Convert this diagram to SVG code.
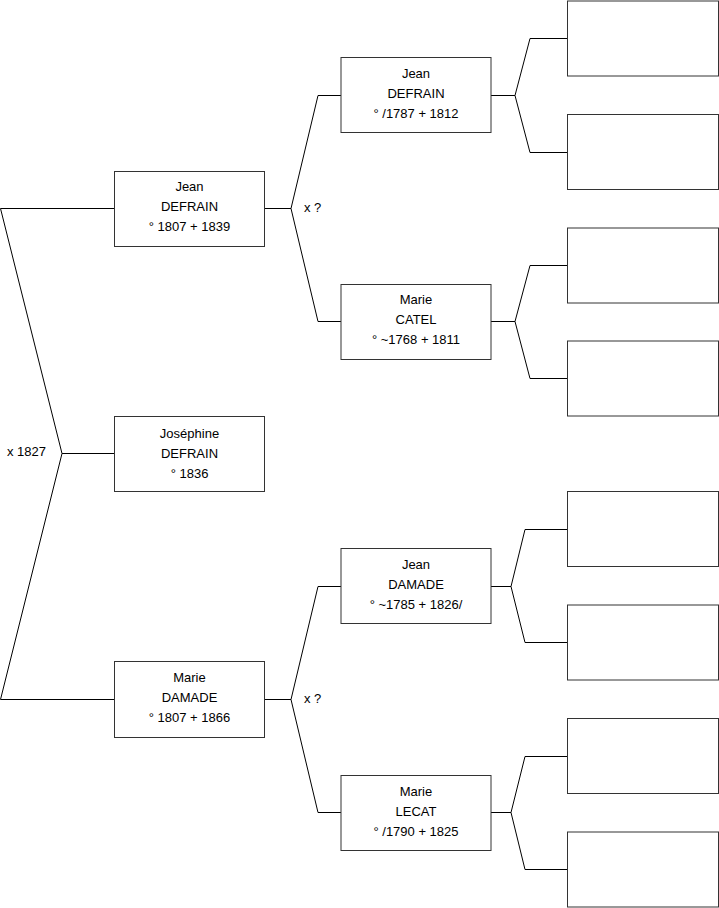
<svg xmlns="http://www.w3.org/2000/svg" width="719" height="908" viewBox="0 0 719 908">
<style>
.bg{fill:#fff}
.box{fill:#fff;stroke:#333;stroke-width:1}
.ln{fill:none;stroke:#000;stroke-width:1}
text{font-family:"Liberation Sans",Arial,sans-serif;font-size:13px;fill:#000}
.c{text-anchor:middle}
</style>
<rect class="bg" x="0" y="0" width="719" height="908"/>
<g id="connectors">
<polyline class="ln" points="114,208.5 0.5,208.5 62,453.5 0.5,699.5 114,699.5"/>
<line class="ln" x1="62" y1="453.5" x2="114" y2="453.5"/>
<polyline class="ln" points="341,95.5 318,95.5 291,208.5 318,321.5 341,321.5"/>
<line class="ln" x1="265" y1="208.5" x2="291" y2="208.5"/>
<polyline class="ln" points="341,586.5 318,586.5 291,699.5 318,812.5 341,812.5"/>
<line class="ln" x1="265" y1="699.5" x2="291" y2="699.5"/>
<polyline class="ln" points="567,38.5 530,38.5 515,95.5 530,152.5 567,152.5"/>
<line class="ln" x1="491" y1="95.5" x2="515" y2="95.5"/>
<polyline class="ln" points="567,265.5 530,265.5 515,321.5 530,378.5 567,378.5"/>
<line class="ln" x1="491" y1="321.5" x2="515" y2="321.5"/>
<polyline class="ln" points="567,529.5 525,529.5 511,586.5 525,642.5 567,642.5"/>
<line class="ln" x1="491" y1="586.5" x2="511" y2="586.5"/>
<polyline class="ln" points="567,756.5 525,756.5 511,812.5 525,869.5 567,869.5"/>
<line class="ln" x1="491" y1="812.5" x2="511" y2="812.5"/>
<text x="7" y="456">x 1827</text>
<text x="304" y="212">x ?</text>
<text x="304" y="703">x ?</text>
</g>
<g id="n-jean-defrain-1807">
<rect class="box" x="114.5" y="171.5" width="150" height="75"/>
<text class="c" x="189.5" y="191">Jean</text>
<text class="c" x="189.5" y="211">DEFRAIN</text>
<text class="c" x="189.5" y="231">° 1807 + 1839</text>
</g>
<g id="n-josephine">
<rect class="box" x="114.5" y="416.5" width="150" height="75"/>
<text class="c" x="189.5" y="438">Joséphine</text>
<text class="c" x="189.5" y="458">DEFRAIN</text>
<text class="c" x="189.5" y="478">° 1836</text>
</g>
<g id="n-marie-damade">
<rect class="box" x="114.5" y="661.5" width="150" height="76"/>
<text class="c" x="189.5" y="682">Marie</text>
<text class="c" x="189.5" y="702">DAMADE</text>
<text class="c" x="189.5" y="722">° 1807 + 1866</text>
</g>
<g id="n-jean-defrain-1787">
<rect class="box" x="341" y="57.5" width="150" height="75"/>
<text class="c" x="416" y="78">Jean</text>
<text class="c" x="416" y="98">DEFRAIN</text>
<text class="c" x="416" y="118">° /1787 + 1812</text>
</g>
<g id="n-marie-catel">
<rect class="box" x="341" y="284.5" width="150" height="75"/>
<text class="c" x="416" y="304">Marie</text>
<text class="c" x="416" y="324">CATEL</text>
<text class="c" x="416" y="344">° ~1768 + 1811</text>
</g>
<g id="n-jean-damade">
<rect class="box" x="341" y="548.5" width="150" height="75"/>
<text class="c" x="416" y="569">Jean</text>
<text class="c" x="416" y="589">DAMADE</text>
<text class="c" x="416" y="609">° ~1785 + 1826/</text>
</g>
<g id="n-marie-lecat">
<rect class="box" x="341" y="775.5" width="150" height="75"/>
<text class="c" x="416" y="796">Marie</text>
<text class="c" x="416" y="816">LECAT</text>
<text class="c" x="416" y="836">° /1790 + 1825</text>
</g>
<g id="n-g3-1"><rect class="box" x="567.5" y="1" width="151" height="75"/></g>
<g id="n-g3-2"><rect class="box" x="567.5" y="114.5" width="151" height="75"/></g>
<g id="n-g3-3"><rect class="box" x="567.5" y="228" width="151" height="75"/></g>
<g id="n-g3-4"><rect class="box" x="567.5" y="341" width="151" height="75"/></g>
<g id="n-g3-5"><rect class="box" x="567.5" y="491.5" width="151" height="75"/></g>
<g id="n-g3-6"><rect class="box" x="567.5" y="605" width="151" height="75"/></g>
<g id="n-g3-7"><rect class="box" x="567.5" y="718.5" width="151" height="75"/></g>
<g id="n-g3-8"><rect class="box" x="567.5" y="832" width="151" height="75"/></g>
</svg>
